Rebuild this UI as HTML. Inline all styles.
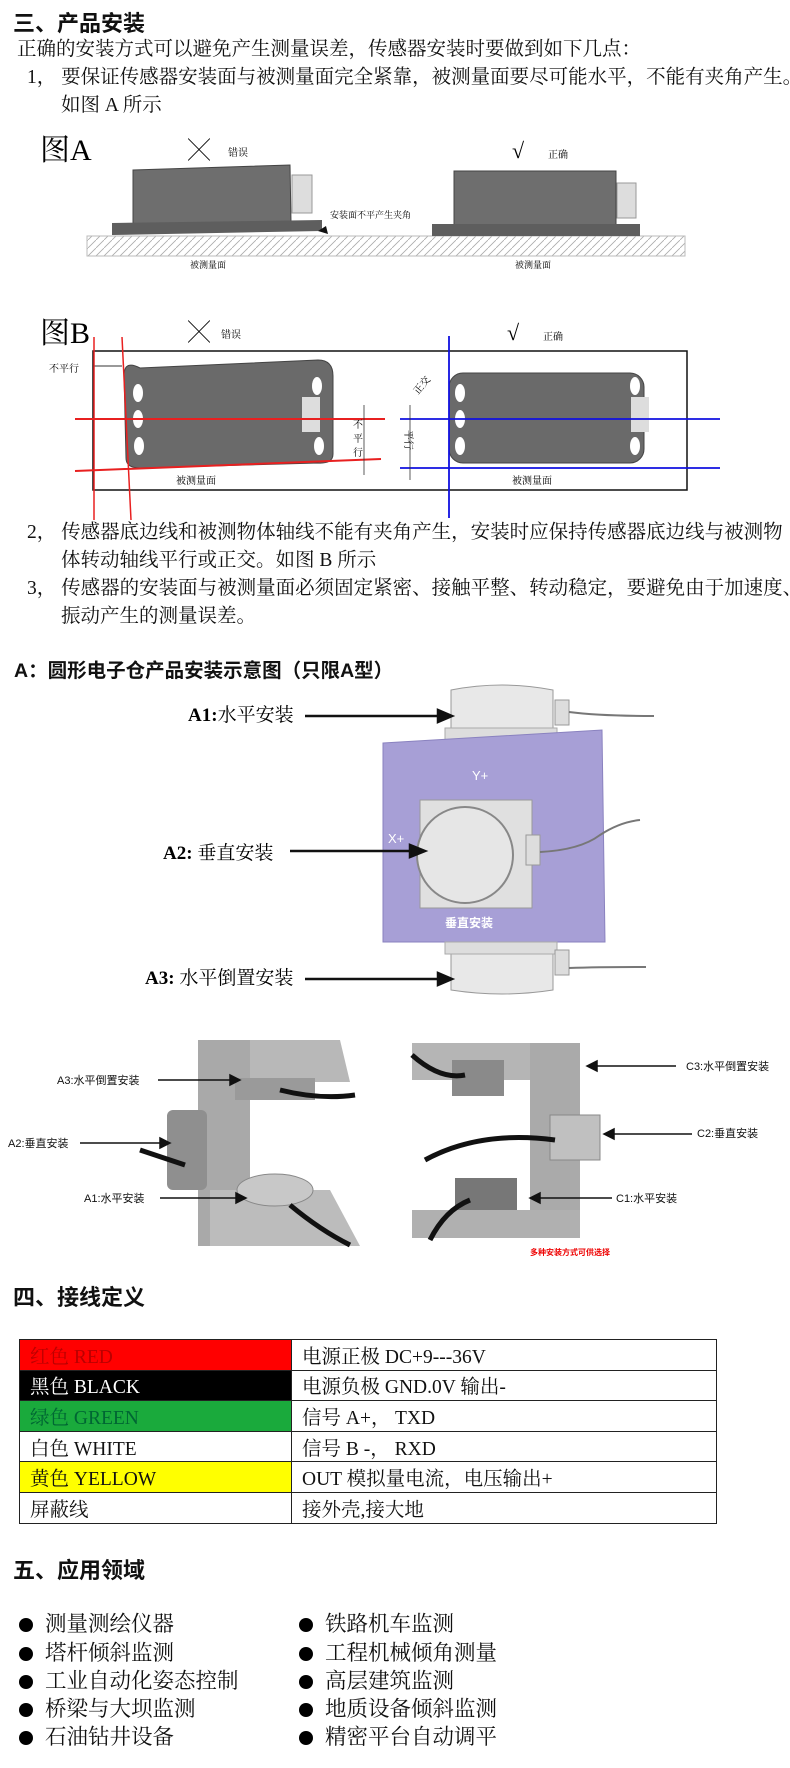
<!DOCTYPE html>
<html><head><meta charset="utf-8">
<style>
*{margin:0;padding:0;box-sizing:border-box}
body{width:790px;height:1768px;background:#fff;position:relative;overflow:hidden;font-family:"Liberation Serif","Noto Serif CJK SC",serif;color:#111}
.t{position:absolute;white-space:nowrap;font-size:19.5px;line-height:22px}
.h{position:absolute;white-space:nowrap;font-size:22px;font-weight:bold;font-family:"Liberation Sans","Noto Sans CJK SC",sans-serif}
svg{position:absolute;left:0;top:0}
table{position:absolute;left:19px;top:1339px;width:698px;border-collapse:collapse}
td{border:1.5px solid #222;height:30.6px;font-size:19.5px;padding-left:10px;white-space:nowrap}
.b{position:absolute;width:14px;height:14px;border-radius:50%;background:#000}
.bt{position:absolute;white-space:nowrap;font-size:21.5px;line-height:24px}
</style></head><body>
<div class="h" style="left:13px;top:6px">三、产品安装</div>
<div class="t" style="left:17px;top:39px">正确的安装方式可以避免产生测量误差，传感器安装时要做到如下几点：</div>
<div class="t" style="left:27px;top:67px">1，  要保证传感器安装面与被测量面完全紧靠，被测量面要尽可能水平，不能有夹角产生。</div>
<div class="t" style="left:61px;top:95px">如图 A 所示</div>

<svg width="790" height="1768">
<defs><pattern id="hp" width="8" height="8" patternUnits="userSpaceOnUse"><path d="M0 8L8 0" stroke="#aaa" stroke-width="0.8"/></pattern></defs>
<text x="40" y="160" font-size="30" font-family="Liberation Serif,Noto Serif CJK SC,serif">图A</text>
<text x="188" y="158" font-size="22">╳</text><text x="228" y="156" font-size="10">错误</text>
<text x="512" y="158" font-size="22">√</text><text x="548" y="158" font-size="10">正确</text>
<rect x="87" y="236" width="598" height="20" fill="url(#hp)" stroke="#bbb"/>
<polygon points="133,170 290,165 291,222 133,229" fill="#6e6e6e" stroke="#444"/>
<polygon points="112,223 322,220 322,231 112,235" fill="#5e5e5e"/>
<rect x="292" y="175" width="20" height="38" fill="#ddd" stroke="#999"/>
<polygon points="318,231 326,226 328,234" fill="#111"/>
<text x="330" y="218" font-size="9">安装面不平产生夹角</text>
<text x="190" y="268" font-size="9">被测量面</text>
<rect x="454" y="171" width="162" height="59" fill="#6e6e6e" stroke="#444"/>
<rect x="432" y="224" width="208" height="12" fill="#5e5e5e"/>
<rect x="617" y="183" width="19" height="35" fill="#ddd" stroke="#999"/>
<text x="515" y="268" font-size="9">被测量面</text>

<text x="40" y="343" font-size="30">图B</text>
<text x="188" y="340" font-size="22">╳</text><text x="221" y="338" font-size="10">错误</text>
<text x="507" y="340" font-size="22">√</text><text x="543" y="340" font-size="10">正确</text>
<rect x="93" y="351" width="594" height="139" fill="none" stroke="#111" stroke-width="1.5"/>
<text x="49" y="372" font-size="10">不平行</text>
<path d="M94 366H122" stroke="#333"/>
<path d="M124 374Q125 360 140 368L318 360Q333 360 333 376V454Q333 464 318 463L140 468Q126 468 126 458Z" fill="#6a6a6a" stroke="#444"/>
<rect x="302" y="397" width="18" height="35" fill="#ddd"/>
<ellipse cx="138" cy="393" rx="5" ry="9" fill="#fff"/><ellipse cx="138" cy="419" rx="5" ry="9" fill="#fff"/><ellipse cx="139" cy="446" rx="5" ry="9" fill="#fff"/>
<ellipse cx="317" cy="386" rx="5" ry="9" fill="#fff"/><ellipse cx="319" cy="446" rx="5" ry="9" fill="#fff"/>
<path d="M94 337V520M122 337L131 520" stroke="#e82020" stroke-width="1.5"/>
<path d="M75 419H385M75 471L381 459" stroke="#e82020" stroke-width="2"/>
<text x="353" y="428" font-size="10">不</text><text x="353" y="442" font-size="10">平</text><text x="353" y="456" font-size="10">行</text>
<path d="M364 405V475" stroke="#333" stroke-width="0.8"/>
<text x="176" y="484" font-size="10">被测量面</text>
<rect x="449" y="373" width="195" height="90" rx="14" fill="#6a6a6a" stroke="#444"/>
<rect x="631" y="397" width="18" height="35" fill="#ddd"/>
<ellipse cx="460" cy="393" rx="5" ry="9" fill="#fff"/><ellipse cx="460" cy="419" rx="5" ry="9" fill="#fff"/><ellipse cx="460" cy="446" rx="5" ry="9" fill="#fff"/>
<ellipse cx="635" cy="386" rx="5" ry="9" fill="#fff"/><ellipse cx="635" cy="446" rx="5" ry="9" fill="#fff"/>
<path d="M449 336V518" stroke="#1010e0" stroke-width="1.8"/>
<path d="M400 419H720M400 468H720" stroke="#1010e0" stroke-width="1.8"/>
<text x="418" y="395" font-size="10" transform="rotate(-50 418 395)">正交</text>
<text x="405" y="430" font-size="10" transform="rotate(90 405 430)">平行</text>
<path d="M410 405V480" stroke="#333" stroke-width="0.8"/>
<text x="512" y="484" font-size="10">被测量面</text>

<path d="M451 690Q502 680 553 690V745Q502 752 451 745Z" fill="#e8e8e8" stroke="#999"/>
<rect x="445" y="728" width="112" height="14" fill="#ddd" stroke="#aaa"/>
<rect x="555" y="700" width="14" height="25" fill="#ddd" stroke="#999"/>
<path d="M569 712Q600 716 654 716" stroke="#777" stroke-width="2" fill="none"/>
<polygon points="383,743 602,730 605,942 383,942" fill="#a79fd6" stroke="#8a82bf"/>
<rect x="420" y="800" width="112" height="108" fill="#e0e0e0" stroke="#999"/>
<circle cx="465" cy="855" r="48" fill="#e6e6e6" stroke="#888" stroke-width="2"/>
<rect x="526" y="835" width="14" height="30" fill="#ddd" stroke="#999"/>
<path d="M540 852Q580 850 600 835Q620 822 640 820" stroke="#777" stroke-width="2" fill="none"/>
<text x="472" y="780" font-size="13" fill="#fff" font-family="Liberation Sans,sans-serif">Y+</text>
<text x="388" y="843" font-size="13" fill="#fff" font-family="Liberation Sans,sans-serif">X+</text>
<text x="445" y="927" font-size="12" fill="#fff" font-weight="bold" font-family="Noto Sans CJK SC,sans-serif">垂直安装</text>
<path d="M451 945Q502 940 553 945V990Q502 998 451 990Z" fill="#e8e8e8" stroke="#999"/>
<rect x="445" y="942" width="112" height="12" fill="#ddd" stroke="#aaa"/>
<rect x="555" y="950" width="14" height="25" fill="#ddd" stroke="#999"/>
<path d="M569 968Q600 967 646 967" stroke="#777" stroke-width="2" fill="none"/>
<g font-family="Liberation Serif,Noto Serif CJK SC,serif" font-size="19" font-weight="bold">
<text x="188" y="721">A1:<tspan font-weight="normal">水平安装</tspan></text>
<text x="163" y="859">A2: <tspan font-weight="normal">垂直安装</tspan></text>
<text x="145" y="984">A3: <tspan font-weight="normal">水平倒置安装</tspan></text>
</g>
<g stroke="#111" stroke-width="2.5" fill="#111">
<path d="M305 716H445"/><polygon points="452,716 438,710 438,722"/>
<path d="M290 851H415"/><polygon points="425,851 410,845 410,857"/>
<path d="M305 979H445"/><polygon points="452,979 438,973 438,985"/>
</g>

<polygon points="198,1040 340,1040 350,1082 250,1082" fill="#b8b8b8"/>
<rect x="198" y="1040" width="52" height="206" fill="#a9a9a9"/>
<rect x="235" y="1078" width="80" height="22" fill="#9a9a9a"/>
<rect x="167" y="1110" width="40" height="80" rx="6" fill="#8f8f8f"/>
<polygon points="210,1190 330,1190 360,1246 210,1246" fill="#bcbcbc"/>
<ellipse cx="275" cy="1190" rx="38" ry="16" fill="#c8c8c8" stroke="#888"/>
<path d="M280 1090Q320 1100 355 1095M140 1150Q170 1160 185 1165M290 1205Q320 1230 350 1245" stroke="#111" stroke-width="5" fill="none"/>
<polygon points="412,1043 580,1043 580,1080 412,1080" fill="#b5b5b5"/>
<rect x="530" y="1043" width="50" height="195" fill="#aaa"/>
<rect x="452" y="1060" width="52" height="36" fill="#8a8a8a"/>
<rect x="550" y="1115" width="50" height="45" fill="#c0c0c0" stroke="#888"/>
<rect x="455" y="1178" width="62" height="40" fill="#777"/>
<polygon points="412,1210 580,1210 580,1238 412,1238" fill="#b0b0b0"/>
<path d="M412 1055Q440 1080 465 1075M425 1160Q480 1130 555 1140M430 1240Q445 1210 470 1200" stroke="#111" stroke-width="5" fill="none"/>
<g font-family="Liberation Sans,Noto Sans CJK SC,sans-serif" font-size="11" fill="#111">
<text x="57" y="1084">A3:水平倒置安装</text>
<text x="8" y="1147">A2:垂直安装</text>
<text x="84" y="1202">A1:水平安装</text>
<text x="686" y="1070">C3:水平倒置安装</text>
<text x="697" y="1137">C2:垂直安装</text>
<text x="616" y="1202">C1:水平安装</text>
</g>
<g stroke="#111" stroke-width="1.5" fill="#111">
<path d="M158 1080H235"/><polygon points="240,1080 230,1075 230,1085"/>
<path d="M80 1143H165"/><polygon points="170,1143 160,1138 160,1148"/>
<path d="M160 1198H240"/><polygon points="246,1198 236,1193 236,1203"/>
<path d="M676 1066H592"/><polygon points="587,1066 597,1061 597,1071"/>
<path d="M692 1134H610"/><polygon points="604,1134 614,1129 614,1139"/>
<path d="M612 1198H535"/><polygon points="530,1198 540,1193 540,1203"/>
</g>
<text x="530" y="1255" font-size="8" fill="#e00" font-weight="bold" font-family="Noto Sans CJK SC,sans-serif">多种安装方式可供选择</text>
</svg>

<div class="t" style="left:27px;top:522px">2，  传感器底边线和被测物体轴线不能有夹角产生，安装时应保持传感器底边线与被测物</div>
<div class="t" style="left:61px;top:550px">体转动轴线平行或正交。如图 B 所示</div>
<div class="t" style="left:27px;top:578px">3，  传感器的安装面与被测量面必须固定紧密、接触平整、转动稳定，要避免由于加速度、</div>
<div class="t" style="left:61px;top:606px">振动产生的测量误差。</div>
<div class="h" style="left:14px;top:654px;font-size:19.5px">A：圆形电子仓产品安装示意图（只限A型）</div>

<div class="h" style="left:13px;top:1280px">四、接线定义</div>
<table>
<tr><td style="width:272px;background:#f00;color:#b00">红色 RED</td><td>电源正极 DC+9---36V</td></tr>
<tr><td style="background:#000;color:#fff">黑色 BLACK</td><td>电源负极 GND.0V  输出-</td></tr>
<tr><td style="background:#1aaa3c;color:#063">绿色 GREEN</td><td>信号 A+， TXD</td></tr>
<tr><td>白色 WHITE</td><td>信号 B -， RXD</td></tr>
<tr><td style="background:#ff0">黄色 YELLOW</td><td>OUT  模拟量电流，电压输出+</td></tr>
<tr><td>屏蔽线</td><td>接外壳,接大地</td></tr>
</table>

<div class="h" style="left:13px;top:1553px">五、应用领域</div>
<div class="b" style="left:19px;top:1618px"></div><div class="bt" style="left:45px;top:1612px">测量测绘仪器</div>
<div class="b" style="left:19px;top:1647px"></div><div class="bt" style="left:45px;top:1641px">塔杆倾斜监测</div>
<div class="b" style="left:19px;top:1675px"></div><div class="bt" style="left:45px;top:1669px">工业自动化姿态控制</div>
<div class="b" style="left:19px;top:1703px"></div><div class="bt" style="left:45px;top:1697px">桥梁与大坝监测</div>
<div class="b" style="left:19px;top:1731px"></div><div class="bt" style="left:45px;top:1725px">石油钻井设备</div>
<div class="b" style="left:299px;top:1618px"></div><div class="bt" style="left:325px;top:1612px">铁路机车监测</div>
<div class="b" style="left:299px;top:1647px"></div><div class="bt" style="left:325px;top:1641px">工程机械倾角测量</div>
<div class="b" style="left:299px;top:1675px"></div><div class="bt" style="left:325px;top:1669px">高层建筑监测</div>
<div class="b" style="left:299px;top:1703px"></div><div class="bt" style="left:325px;top:1697px">地质设备倾斜监测</div>
<div class="b" style="left:299px;top:1731px"></div><div class="bt" style="left:325px;top:1725px">精密平台自动调平</div>
</body></html>
